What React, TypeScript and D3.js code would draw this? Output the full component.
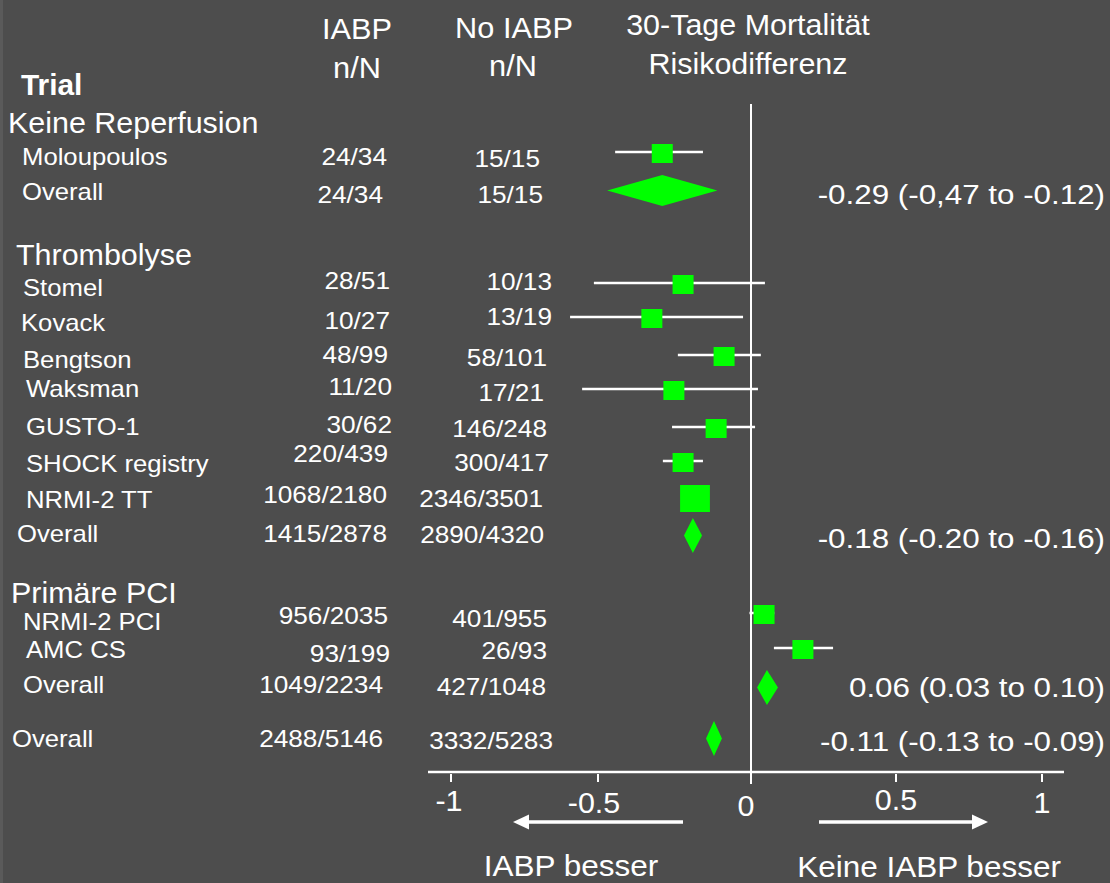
import React from "react";
import * as d3 from "d3";

// ---------- DATA ----------
const GROUPS = ["Keine Reperfusion", "Thrombolyse", "Primäre PCI"];
const TRIALS = [
  "Moloupoulos", "Overall",
  "Stomel", "Kovack", "Bengtson", "Waksman", "GUSTO-1", "SHOCK registry", "NRMI-2 TT", "Overall",
  "NRMI-2 PCI", "AMC CS", "Overall",
  "Overall",
];
const IABP_NN = [
  "24/34", "24/34",
  "28/51", "10/27", "48/99", "11/20", "30/62", "220/439", "1068/2180", "1415/2878",
  "956/2035", "93/199", "1049/2234",
  "2488/5146",
];
const NO_IABP_NN = [
  "15/15", "15/15",
  "10/13", "13/19", "58/101", "17/21", "146/248", "300/417", "2346/3501", "2890/4320",
  "401/955", "26/93", "427/1048",
  "3332/5283",
];
const KIND = [
  "study", "pooled",
  "study", "study", "study", "study", "study", "study", "study", "pooled",
  "study", "study", "pooled",
  "pooled",
];
const ESTIMATE = [-0.29, -0.29, -0.222, -0.324, -0.088, -0.252, -0.114, -0.222, -0.183, -0.19, 0.045, 0.179, 0.055, -0.121];
const LOWER = [-0.444, -0.47, -0.514, -0.595, -0.239, -0.554, -0.258, -0.288, -0.21, -0.219, -0.005, 0.079, 0.021, -0.147];
const UPPER = [-0.157, -0.11, 0.048, -0.026, 0.034, 0.024, 0.014, -0.157, -0.16, -0.16, 0.08, 0.283, 0.093, -0.095];
const WEIGHT = [1, 1, 1, 1, 1, 1, 1, 1, 1.42, 1, 1, 1, 1, 1];
const CI_TEXT = [
  "", "-0.29 (-0,47 to -0.12)",
  "", "", "", "", "", "", "", "-0.18 (-0.20 to -0.16)",
  "", "", "0.06 (0.03 to 0.10)",
  "-0.11 (-0.13 to -0.09)",
];
const TICKS = [-1, -0.5, 0, 0.5, 1];
const TICK_LABELS = ["-1", "-0.5", "0", "0.5", "1"];

// ---------- LAYOUT ----------
const W = 1110;
const H = 883;
const BG = "#4d4d4d";
const GREEN = "#00ff00";
const FONT = "'Liberation Sans', Arial, Helvetica, sans-serif";

// row layout: marker centre y, label x/baseline, n/N anchors
const ROW_LAYOUT = [
  { my: 153.5, lx: 22, ly: 165, ax: 387, ay: 165, bx: 540, by: 167, ty: 204, dh: 31 },
  { my: 190.5, lx: 22, ly: 200, ax: 383, ay: 203, bx: 543, by: 203, ty: 204, dh: 31 },
  { my: 284.5, lx: 23, ly: 296, ax: 390, ay: 289, bx: 552, by: 290, ty: 0, dh: 35 },
  { my: 318.5, lx: 21, ly: 331, ax: 390, ay: 329, bx: 552, by: 325, ty: 0, dh: 35 },
  { my: 356.5, lx: 23, ly: 368, ax: 388, ay: 363, bx: 547, by: 366, ty: 0, dh: 35 },
  { my: 390.5, lx: 26, ly: 397, ax: 392, ay: 395, bx: 544, by: 401, ty: 0, dh: 35 },
  { my: 428.5, lx: 26, ly: 435, ax: 392, ay: 433, bx: 547, by: 437, ty: 0, dh: 35 },
  { my: 462.5, lx: 26, ly: 472, ax: 388, ay: 462, bx: 549, by: 471, ty: 0, dh: 35 },
  { my: 498.5, lx: 26, ly: 508, ax: 387, ay: 503, bx: 543, by: 507, ty: 0, dh: 35 },
  { my: 535.5, lx: 17, ly: 542, ax: 387, ay: 542, bx: 544, by: 543, ty: 548, dh: 35 },
  { my: 614.5, lx: 23, ly: 630, ax: 388, ay: 624, bx: 547, by: 627, ty: 0, dh: 35 },
  { my: 649.5, lx: 26, ly: 658, ax: 390, ay: 662, bx: 547, by: 659, ty: 0, dh: 35 },
  { my: 687.5, lx: 23, ly: 693, ax: 383, ay: 693, bx: 546, by: 695, ty: 697, dh: 35 },
  { my: 738.5, lx: 12, ly: 747, ax: 383, ay: 747, bx: 553, by: 749, ty: 751, dh: 35 },
];
const GROUP_LAYOUT = [
  { x: 8, y: 133 },
  { x: 16, y: 265 },
  { x: 11, y: 603 },
];
const TICK_LABEL_LAYOUT = [
  { dx: -2, y: 811 },
  { dx: -4, y: 813 },
  { dx: -5, y: 816 },
  { dx: 0, y: 810 },
  { dx: 0, y: 813 },
];

const x = d3
  .scaleLinear()
  .domain([-1, -0.5, 0, 0.5, 1])
  .range([451, 598, 751, 896, 1042]);

const AXIS_Y = 772;
const AXIS_X0 = 428;
const AXIS_X1 = 1064;
const VLINE_TOP = 104;

type TProps = {
  x: number;
  y: number;
  size: number;
  anchor?: "start" | "middle" | "end";
  bold?: boolean;
  stretch?: number;
  children: React.ReactNode;
};
function T({ x: tx, y: ty, size, anchor = "start", bold = false, stretch = 1.07, children }: TProps) {
  return (
    <text
      transform={`translate(${tx},${ty}) scale(${stretch},1)`}
      fontSize={size}
      fontFamily={FONT}
      fontWeight={bold ? "bold" : "normal"}
      textAnchor={anchor}
      fill="#ffffff"
    >
      {children}
    </text>
  );
}

function arrowPath(x0: number, x1: number, y: number, head: number, half: number) {
  // arrow head at x1, pointing away from x0
  const dir = x1 > x0 ? 1 : -1;
  const base = x1 - dir * head;
  return `M${x1},${y} L${base},${y - half} L${base},${y + half} Z`;
}

export default function App() {
  const diamond = (i: number) => {
    const l = ROW_LAYOUT[i];
    const cy = l.my;
    const h = l.dh / 2;
    const line = d3.line<[number, number]>();
    return (
      line([
        [x(LOWER[i]), cy],
        [x(ESTIMATE[i]), cy - h],
        [x(UPPER[i]), cy],
        [x(ESTIMATE[i]), cy + h],
      ]) + "Z"
    );
  };

  return (
    <svg
      width={W}
      height={H}
      style={{ position: "absolute", left: 0, top: 0, display: "block" }}
    >
      <rect x={0} y={0} width={W} height={H} fill={BG} />
      <rect x={0} y={0} width={3} height={H} fill="#5a5a5a" />

      {/* headers */}
      <T x={357} y={39} size={29} anchor="middle" stretch={1.06}>IABP</T>
      <T x={357} y={78} size={29} anchor="middle" stretch={1.06}>n/N</T>
      <T x={514} y={38} size={29} anchor="middle" stretch={1.06}>No IABP</T>
      <T x={513} y={76} size={29} anchor="middle" stretch={1.06}>n/N</T>
      <T x={748} y={35} size={29} anchor="middle" stretch={1.05}>30-Tage Mortalität</T>
      <T x={748} y={74} size={29} anchor="middle" stretch={1.05}>Risikodifferenz</T>
      <T x={21} y={95} size={29} bold stretch={1.03}>Trial</T>

      {GROUPS.map((g, i) => (
        <T key={g} x={GROUP_LAYOUT[i].x} y={GROUP_LAYOUT[i].y} size={29} stretch={1.05}>
          {g}
        </T>
      ))}

      {/* zero line */}
      <line x1={x(0)} x2={x(0)} y1={VLINE_TOP} y2={784} stroke="#fff" strokeWidth={2} />

      {/* rows */}
      {TRIALS.map((name, i) => {
        const l = ROW_LAYOUT[i];
        return (
          <g key={i}>
            <T x={l.lx} y={l.ly} size={24} stretch={1.07}>{name}</T>
            <T x={l.ax} y={l.ay} size={24.5} anchor="end" stretch={1.07}>{IABP_NN[i]}</T>
            <T x={l.bx} y={l.by} size={24.5} anchor="end" stretch={1.07}>{NO_IABP_NN[i]}</T>
            {KIND[i] === "study" ? (
              <g>
                <line
                  x1={x(LOWER[i])}
                  x2={x(UPPER[i])}
                  y1={l.my - 1.5}
                  y2={l.my - 1.5}
                  stroke="#fff"
                  strokeWidth={2.5}
                />
                <rect
                  x={x(ESTIMATE[i]) - (21 * WEIGHT[i]) / 2}
                  y={l.my - (19 * WEIGHT[i]) / 2}
                  width={21 * WEIGHT[i]}
                  height={19 * WEIGHT[i]}
                  fill={GREEN}
                />
              </g>
            ) : (
              <path d={diamond(i)} fill={GREEN} />
            )}
            {CI_TEXT[i] && (
              <T x={1105} y={l.ty} size={28.5} anchor="end" stretch={1.1}>
                {CI_TEXT[i]}
              </T>
            )}
          </g>
        );
      })}

      {/* axis */}
      <line x1={AXIS_X0} x2={AXIS_X1} y1={AXIS_Y} y2={AXIS_Y} stroke="#fff" strokeWidth={2.5} />
      {TICKS.map((t, i) => (
        <g key={t}>
          <line x1={x(t)} x2={x(t)} y1={AXIS_Y + 2} y2={AXIS_Y + 10} stroke="#fff" strokeWidth={2} />
          <T
            x={x(t) + TICK_LABEL_LAYOUT[i].dx}
            y={TICK_LABEL_LAYOUT[i].y}
            size={29}
            anchor="middle"
            stretch={1.05}
          >
            {TICK_LABELS[i]}
          </T>
        </g>
      ))}

      {/* direction arrows */}
      <line x1={528} x2={683} y1={822} y2={822} stroke="#fff" strokeWidth={3.5} />
      <path d={arrowPath(683, 513, 822, 16, 7.5)} fill="#fff" />
      <line x1={819} x2={973} y1={822} y2={822} stroke="#fff" strokeWidth={3.5} />
      <path d={arrowPath(819, 988, 822, 16, 7.5)} fill="#fff" />

      <T x={571} y={876} size={30} anchor="middle" stretch={1.05}>IABP besser</T>
      <T x={929} y={877} size={30} anchor="middle" stretch={1.05}>Keine IABP besser</T>
    </svg>
  );
}
